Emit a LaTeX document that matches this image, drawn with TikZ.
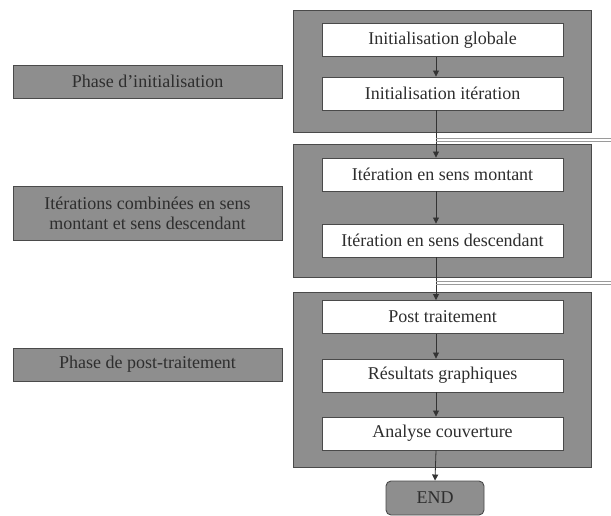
\documentclass[tikz,border=0pt]{standalone}
\usepackage{fontspec}
\setmainfont{Liberation Serif}
\usetikzlibrary{arrows.meta}
\definecolor{panel}{HTML}{8E8E8E}
\definecolor{edge}{HTML}{4A4A4A}
\definecolor{wire}{HTML}{9A9A9A}
\definecolor{ink}{HTML}{2E2E2E}
\begin{document}
\begin{tikzpicture}[x=1pt,y=-1pt,
  phase/.style={draw=edge,fill=panel,line width=0.9pt,minimum width=298pt,inner sep=0pt},
  stepbox/.style={draw=edge,fill=white,line width=0.9pt,minimum width=241pt,minimum height=33pt,inner sep=0pt,font=\fontsize{18}{20}\selectfont,text=ink},
  label/.style={draw=edge,fill=panel,line width=0.8pt,minimum width=269pt,inner sep=0pt,align=center,font=\fontsize{18}{20}\selectfont,text=ink},
  flow/.style={-{Triangle[length=6pt,width=6pt]},line width=0.8pt,black!80},
  loopline/.style={wire,line width=0.6pt}]
\useasboundingbox (0,0) rectangle (611,516);
% phase panels
\node[phase,minimum height=122pt] (B1) at (442,71) {};
\node[phase,minimum height=133pt] (B2) at (442,210.5) {};
\node[phase,minimum height=175pt] (B3) at (442,379.5) {};
% steps
\node[stepbox] (W1) at (442.5,40) {Initialisation globale};
\node[stepbox] (W2) at (442.5,93.5) {Initialisation itération};
\node[stepbox] (W3) at (442.5,174.5) {Itération en sens montant};
\node[stepbox] (W4) at (442.5,240.5) {Itération en sens descendant};
\node[stepbox] (P1) at (442.5,317) {Post traitement};
\node[stepbox] (P2) at (442.5,375.5) {Résultats graphiques};
\node[stepbox] (P3) at (442.5,433.5) {Analyse couverture};
\node[draw=edge,fill=panel,line width=0.9pt,rounded corners=5pt,minimum width=98pt,minimum height=34pt,inner sep=0pt,font=\fontsize{18}{20}\selectfont,text=ink] (E) at (435,498) {END};
% phase labels
\node[label,minimum height=33pt] (L1) at (147.5,81.5) {Phase d'initialisation};
\node[label,minimum height=54pt] (L2) at (147.5,213) {Itérations combinées en sens\\montant et sens descendant};
\node[label,minimum height=33pt] (L3) at (147.5,364.5) {Phase de post-traitement};
% flow arrows
\draw[flow] ([xshift=-6.5pt]W1.south) -- ([xshift=-6.5pt]W2.north);
\draw[flow] ([xshift=-6.5pt]W2.south) -- ([xshift=-6.5pt]W3.north);
\draw[flow] ([xshift=-6.5pt]W3.south) -- ([xshift=-6.5pt]W4.north);
\draw[flow] ([xshift=-6.5pt]W4.south) -- ([xshift=-6.5pt]P1.north);
\draw[flow] ([xshift=-6.5pt]P1.south) -- ([xshift=-6.5pt]P2.north);
\draw[flow] ([xshift=-6.5pt]P2.south) -- ([xshift=-6.5pt]P3.north);
\draw[flow] ([xshift=-6.5pt]P3.south) -- (E.north);
% loop-back lines leaving the flow to the right
\coordinate (T1) at (436,138);
\coordinate (T1b) at (436,141);
\coordinate (T2) at (436,281);
\coordinate (T2b) at (436,284);
\draw[loopline] (T1) -- (611,138);
\draw[loopline] (T1b) -- (611,141);
\draw[loopline] (T2) -- (611,281);
\draw[loopline] (T2b) -- (611,284);
\end{tikzpicture}
\end{document}
